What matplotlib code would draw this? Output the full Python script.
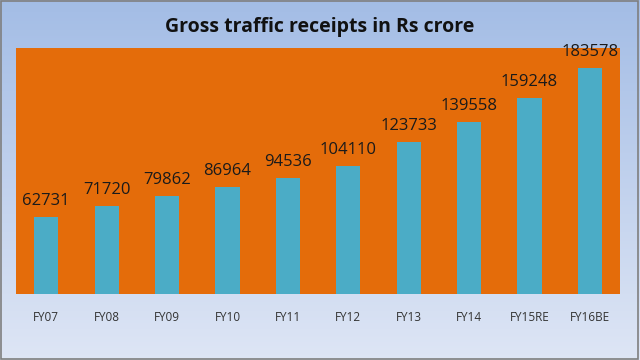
import matplotlib
matplotlib.use('Agg')
import matplotlib.pyplot as plt
import numpy as np

years = ['FY07', 'FY08', 'FY09', 'FY10', 'FY11', 'FY12', 'FY13', 'FY14', 'FY15RE', 'FY16BE']
receipts = [62731, 71720, 79862, 86964, 94536, 104110, 123733, 139558, 159248, 183578]

plt.rcParams['font.family'] = ['Open Sans', 'DejaVu Sans']

fig = plt.figure(figsize=(6.4, 3.6), dpi=100)

# light blue gradient background for the whole chart
bg = fig.add_axes([0, 0, 1, 1], zorder=0)
grad = np.linspace(0, 1, 256).reshape(-1, 1)
top_c = np.array([0.64, 0.74, 0.90])
bot_c = np.array([0.87, 0.90, 0.96])
img = top_c * (1 - grad[..., None]) + bot_c * grad[..., None]
bg.imshow(img, aspect='auto', extent=[0, 1, 0, 1])
bg.add_patch(plt.Rectangle((0.002, 0.003), 0.995, 0.993, fill=False,
                           edgecolor='#7f7f7f', linewidth=1.2, transform=bg.transAxes))
bg.set_axis_off()

ax = fig.add_axes([0.025, 0.183, 0.944, 0.684], zorder=1)
ax.set_facecolor('#E46C0A')
x = np.arange(len(years))
ax.bar(x, receipts, width=0.4, color='#4BACC6')
for xi, v in zip(x, receipts):
    ax.text(xi, v + 6500, str(v), ha='center', va='bottom', fontsize=12, color='#1a1a1a')

ax.set_xlim(-0.5, len(years) - 0.5)
ax.set_ylim(0, 200000)
ax.set_yticks([])
ax.set_xticks(x)
ax.set_xticklabels(years, fontsize=8.5, color='#333333')
ax.tick_params(axis='x', length=0, pad=12)
for s in ax.spines.values():
    s.set_visible(False)

fig.text(0.5, 0.925, 'Gross traffic receipts in Rs crore', ha='center', va='center',
         fontsize=14, fontweight='bold', color='#111111')

fig.savefig('out.png', dpi=100)
